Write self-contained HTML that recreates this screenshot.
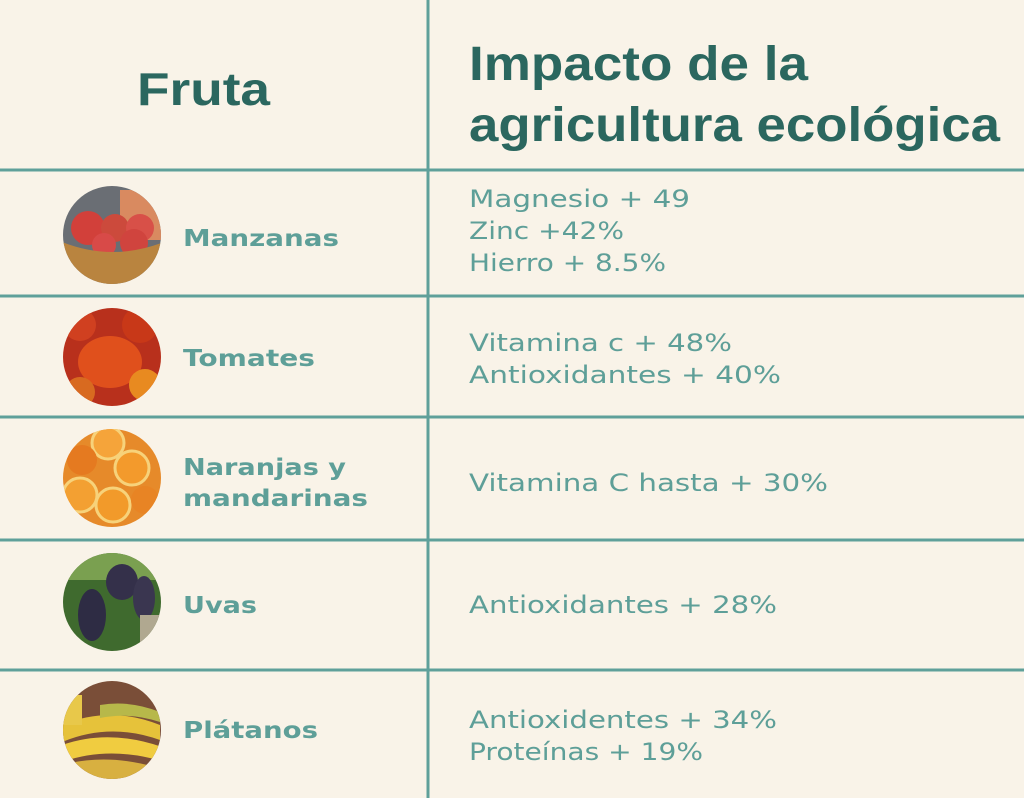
<!DOCTYPE html>
<html><head><meta charset="utf-8"><style>
html,body{margin:0;padding:0;background:#f9f3e8;}
svg{display:block}
.h{font-family:"Liberation Sans",sans-serif;font-weight:bold;fill:#2b675f}
.l{font-family:"DejaVu Sans","Liberation Sans",sans-serif;font-weight:bold;fill:#5e9f98;font-size:23px}
.r{font-family:"DejaVu Sans","Liberation Sans",sans-serif;fill:#5e9f98;font-size:24px}
</style></head><body>
<svg width="1024" height="798" viewBox="0 0 1024 798">
<defs>
<clipPath id="c1"><circle cx="112" cy="235" r="49"/></clipPath>
<clipPath id="c2"><circle cx="112" cy="357" r="49"/></clipPath>
<clipPath id="c3"><circle cx="112" cy="478" r="49"/></clipPath>
<clipPath id="c4"><circle cx="112" cy="602" r="49"/></clipPath>
<clipPath id="c5"><circle cx="112" cy="730" r="49"/></clipPath>
</defs>
<rect width="1024" height="798" fill="#f9f3e8"/>
<g stroke="#5fa09a" stroke-width="3">
<line x1="428" y1="0" x2="428" y2="798"/>
<line x1="0" y1="170" x2="1024" y2="170"/>
<line x1="0" y1="296" x2="1024" y2="296"/>
<line x1="0" y1="417" x2="1024" y2="417"/>
<line x1="0" y1="540" x2="1024" y2="540"/>
<line x1="0" y1="670" x2="1024" y2="670"/>
</g>
<text class="h" x="137" y="105" font-size="46" textLength="133" lengthAdjust="spacingAndGlyphs">Fruta</text>
<text class="h" x="469" y="80" font-size="48" textLength="339" lengthAdjust="spacingAndGlyphs">Impacto de la</text>
<text class="h" x="469" y="141" font-size="48" textLength="531" lengthAdjust="spacingAndGlyphs">agricultura ecológica</text>

<g clip-path="url(#c1)">
<rect x="60" y="180" width="110" height="110" fill="#6a6e74"/>
<rect x="120" y="190" width="50" height="50" fill="#d98a60"/>
<circle cx="88" cy="228" r="17" fill="#d2403a"/><circle cx="115" cy="228" r="14" fill="#cc4a3c"/>
<circle cx="140" cy="228" r="14" fill="#d85048"/><circle cx="104" cy="245" r="12" fill="#d84a48"/><circle cx="134" cy="243" r="14" fill="#d0443e"/>
<path d="M62 242 Q112 262 164 242 L160 270 Q112 300 66 270Z" fill="#b9843f"/>
</g>
<g clip-path="url(#c2)">
<rect x="60" y="305" width="110" height="110" fill="#b8301c"/>
<circle cx="80" cy="325" r="16" fill="#d04020"/><circle cx="140" cy="325" r="18" fill="#c83818"/>
<ellipse cx="110" cy="362" rx="32" ry="26" fill="#e0501c"/>
<circle cx="145" cy="385" r="16" fill="#e88a20"/><circle cx="80" cy="392" r="15" fill="#d86a20"/>
</g>
<g clip-path="url(#c3)">
<rect x="60" y="425" width="110" height="110" fill="#e68a2a"/>
<circle cx="108" cy="443" r="16" fill="#f5a43a" stroke="#f7d27a" stroke-width="3"/>
<circle cx="132" cy="468" r="17" fill="#f39a2c" stroke="#f7d27a" stroke-width="3"/>
<circle cx="80" cy="495" r="17" fill="#f3a032" stroke="#f7d27a" stroke-width="3"/>
<circle cx="113" cy="505" r="17" fill="#f29a2a" stroke="#f7d27a" stroke-width="3"/>
<circle cx="82" cy="460" r="15" fill="#e57a20"/><circle cx="145" cy="500" r="14" fill="#e88424"/>
</g>
<g clip-path="url(#c4)">
<rect x="60" y="550" width="110" height="110" fill="#3f6a2e"/>
<rect x="60" y="550" width="110" height="30" fill="#7aa050"/>
<ellipse cx="92" cy="615" rx="14" ry="26" fill="#2e2c44"/>
<ellipse cx="122" cy="582" rx="16" ry="18" fill="#34304a"/>
<ellipse cx="144" cy="598" rx="11" ry="22" fill="#3a3650"/>
<rect x="140" y="615" width="30" height="30" fill="#b0a890"/>
</g>
<g clip-path="url(#c5)">
<rect x="60" y="680" width="110" height="110" fill="#7a4e38"/>
<path d="M62 725 Q110 705 160 725 L160 740 Q110 722 62 742Z" fill="#e6c23a"/>
<path d="M62 745 Q110 728 165 748 L165 762 Q110 745 62 762Z" fill="#f0cc40"/>
<path d="M100 705 Q130 700 160 712 L160 722 Q130 712 100 718Z" fill="#b7b84a"/>
<path d="M62 765 Q110 752 165 770 L165 790 L62 790Z" fill="#d8b040"/>
<rect x="62" y="695" width="20" height="30" fill="#e8c84a"/>
</g>

<text class="l" x="183" y="246" textLength="156" lengthAdjust="spacingAndGlyphs">Manzanas</text>
<text class="l" x="183" y="366" textLength="132" lengthAdjust="spacingAndGlyphs">Tomates</text>
<text class="l" x="183" y="475" textLength="163" lengthAdjust="spacingAndGlyphs">Naranjas y</text>
<text class="l" x="183" y="506" textLength="185" lengthAdjust="spacingAndGlyphs">mandarinas</text>
<text class="l" x="183" y="613" textLength="74" lengthAdjust="spacingAndGlyphs">Uvas</text>
<text class="l" x="183" y="738" textLength="135" lengthAdjust="spacingAndGlyphs">Plátanos</text>

<text class="r" x="469" y="207" textLength="221" lengthAdjust="spacingAndGlyphs">Magnesio + 49</text>
<text class="r" x="469" y="239" textLength="155" lengthAdjust="spacingAndGlyphs">Zinc +42%</text>
<text class="r" x="469" y="271" textLength="197" lengthAdjust="spacingAndGlyphs">Hierro + 8.5%</text>
<text class="r" x="469" y="351" textLength="263" lengthAdjust="spacingAndGlyphs">Vitamina c + 48%</text>
<text class="r" x="469" y="383" textLength="312" lengthAdjust="spacingAndGlyphs">Antioxidantes + 40%</text>
<text class="r" x="469" y="491" textLength="359" lengthAdjust="spacingAndGlyphs">Vitamina C hasta + 30%</text>
<text class="r" x="469" y="613" textLength="308" lengthAdjust="spacingAndGlyphs">Antioxidantes + 28%</text>
<text class="r" x="469" y="728" textLength="308" lengthAdjust="spacingAndGlyphs">Antioxidentes + 34%</text>
<text class="r" x="469" y="760" textLength="234" lengthAdjust="spacingAndGlyphs">Proteínas + 19%</text>
</svg>
</body></html>
